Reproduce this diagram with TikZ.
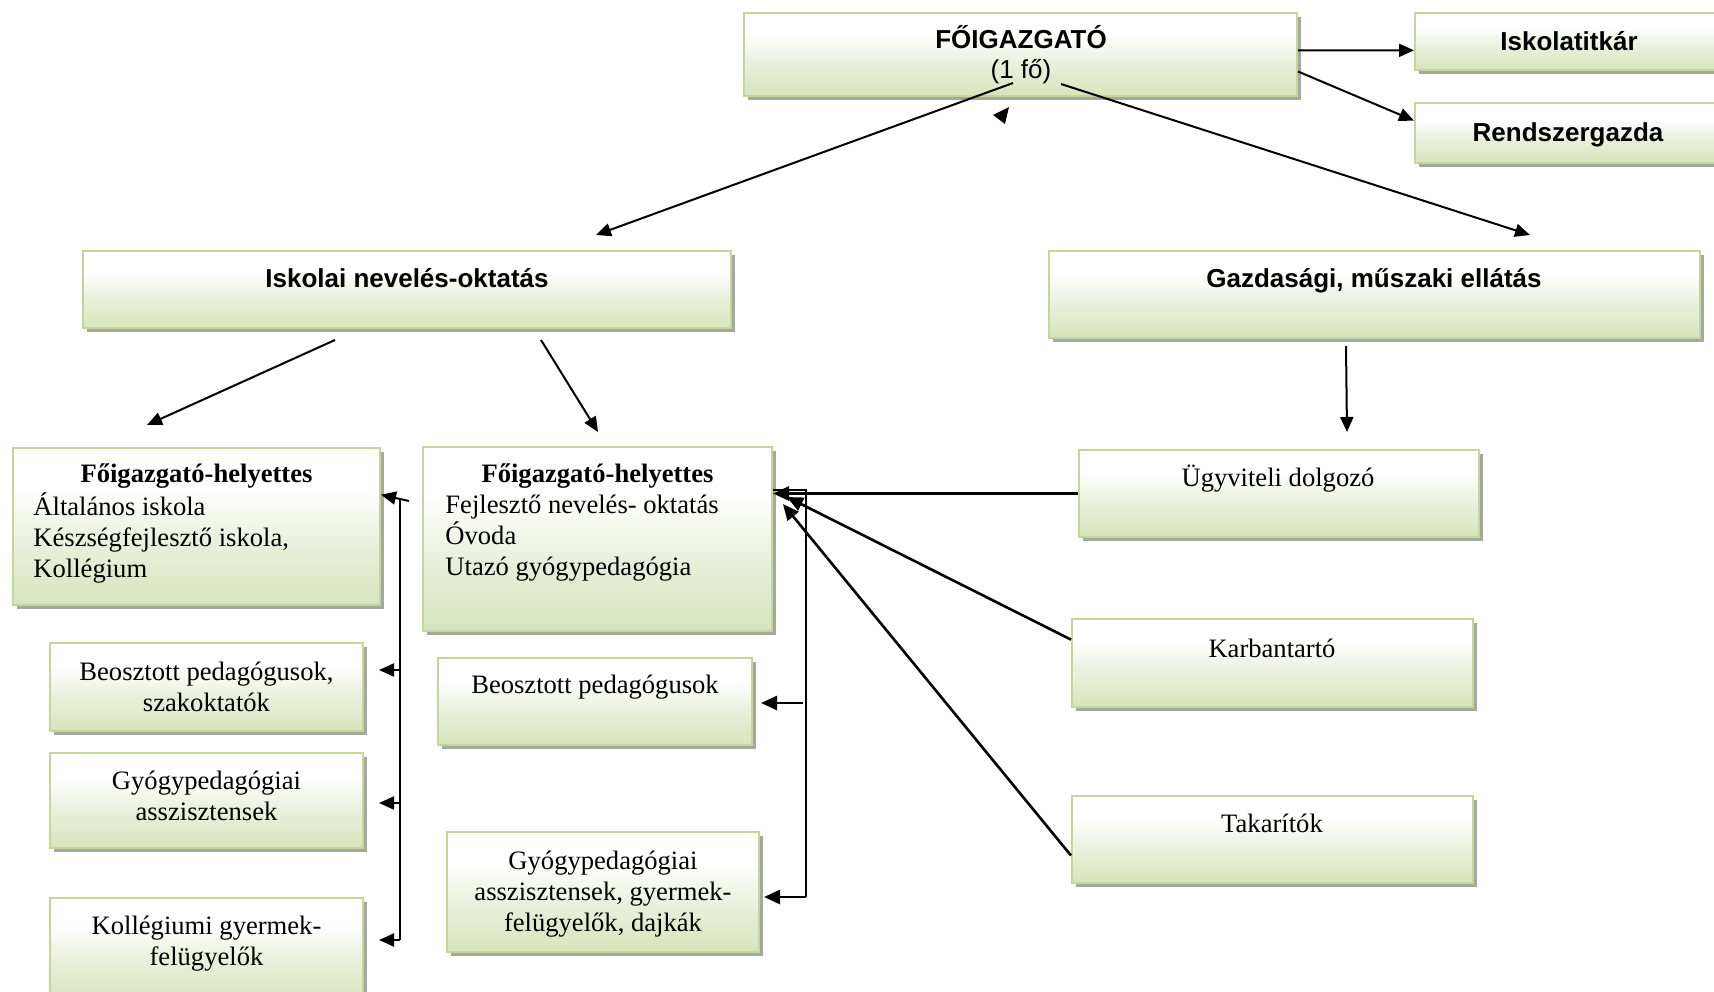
\documentclass[tikz,border=0pt]{standalone}
\usepackage{fontspec}
\setmainfont{Liberation Serif}
\newfontfamily\arialfont{Liberation Sans}
\usetikzlibrary{arrows.meta,shadows,calc,fit}
\definecolor{boxbot}{HTML}{D7E4BD}
\definecolor{boxmid}{HTML}{EAF0DC}
\definecolor{boxline}{HTML}{C3D69B}
\definecolor{shadowc}{HTML}{A4A99C}
\pgfdeclareverticalshading{boxshade}{100bp}{color(0bp)=(boxbot); color(25bp)=(boxbot); color(45bp)=(boxmid); color(62bp)=(white); color(100bp)=(white)}
\lineskiplimit=-20pt
\tikzset{
  box/.style={draw=boxline, line width=1pt, shade, shading=boxshade, inner sep=0pt,
    drop shadow={shadow xshift=1.8pt, shadow yshift=-2.2pt, fill=shadowc, opacity=1}},
  txt/.style={inner sep=0pt},
  ser/.style={font=\fontsize{13.3}{15.5}\selectfont},
  serb/.style={font=\fontsize{13.3}{15.5}\selectfont\bfseries},
  sansb/.style={font=\arialfont\fontsize{13}{15}\selectfont\bfseries},
  sansr/.style={font=\arialfont\fontsize{13}{15}\selectfont},
  conn/.style={draw, line width=1pt},
  arr/.style={draw, line width=1pt, -{Triangle[length=7.5pt,width=6.5pt]}},
  arrk/.style={draw, line width=1.3pt, -{Triangle[length=8pt,width=7pt]}}
}
\begin{document}
\begin{tikzpicture}[x=0.5pt,y=-0.5pt]
\useasboundingbox (0,0) rectangle (1714,991);
\fill[white] (0,0) rectangle (1714,991);
\clip (0,0) rectangle (1714,991);

% boxes
\node[box, fit={(744,13) (1297,96)}] (FOI) {};
\node[box, fit={(1415,13) (1727,70)}] (ISK) {};
\node[box, fit={(1415,103) (1727,163)}] (RSG) {};
\node[box, fit={(83,251) (731,328)}] (ISO) {};
\node[box, fit={(1049,251) (1700,338)}] (GAZ) {};
\node[box, fit={(13,448) (380,605)}] (FH1) {};
\node[box, fit={(423,447) (772,631)}] (FH2) {};
\node[box, fit={(1079,450) (1479,537)}] (UGY) {};
\node[box, fit={(1072,619) (1473,707)}] (KAR) {};
\node[box, fit={(1072,796) (1473,883)}] (TAK) {};
\node[box, fit={(50,643) (363,731)}] (B1) {};
\node[box, fit={(50,753) (363,848)}] (G1) {};
\node[box, fit={(50,898) (363,1000)}] (K1) {};
\node[box, fit={(438,658) (752,745)}] (B2) {};
\node[box, fit={(447,832) (759,952)}] (G2) {};

% texts
\node[txt, sansb] (FOIt) at (1021,37) {FŐIGAZGATÓ};
\node[txt, sansr] (FOIs) at (1021,72) {(1 fő)};
\node[txt, sansb] (ISKt) at (1569,41) {Iskolatitkár};
\node[txt, sansb] (RSGt) at (1568,135) {Rendszergazda};
\node[txt, sansb] (ISOt) at (407,278) {Iskolai nevelés-oktatás};
\node[txt, sansb] (GAZt) at (1374,281) {Gazdasági, műszaki ellátás};
\node[txt, serb] (FH1t) at (196.5,476) {Főigazgató-helyettes};
\node[txt, ser, anchor=west, align=left] (FH1l) at (33,538) {Általános iskola\\Készségfejlesztő iskola,\\Kollégium};
\node[txt, serb] (FH2t) at (597.5,476) {Főigazgató-helyettes};
\node[txt, ser, anchor=west, align=left] (FH2l) at (445,538) {Fejlesztő nevelés- oktatás\\Óvoda\\Utazó gyógypedagógia};
\node[txt, ser] (UGYt) at (1278,479) {Ügyviteli dolgozó};
\node[txt, ser] (KARt) at (1272,648) {Karbantartó};
\node[txt, ser] (TAKt) at (1272,823) {Takarítók};
\node[txt, ser, align=center] (B1t) at (206.5,687) {Beosztott pedagógusok,\\szakoktatók};
\node[txt, ser, align=center] (G1t) at (206.5,796) {Gyógypedagógiai\\asszisztensek};
\node[txt, ser, align=center] (K1t) at (206.5,944) {Kollégiumi gyermek-\\felügyelők};
\node[txt, ser] (B2t) at (595,687) {Beosztott pedagógusok};
\node[txt, ser, align=center] (G2t) at (603,894) {Gyógypedagógiai\\asszisztensek, gyermek-\\felügyelők, dajkák};

% free connector ends
\coordinate (foiL) at (1013,83);
\coordinate (isoIn) at (596,235);
\coordinate (foiR) at (1061,84);
\coordinate (gazIn) at (1530,235);
\coordinate (isoL) at (335,340);
\coordinate (fh1Top) at (147,425);
\coordinate (isoR) at (541,340);
\coordinate (fh2Top) at (598,432);
\coordinate (gazB) at (1346,346);
\coordinate (ugyTop) at (1347,432);
\coordinate (lbT) at (409,501);
\coordinate (lbV) at (400,499);
\coordinate (lb1) at (400,670);
\coordinate (lb2) at (400,803);
\coordinate (lbB) at (400,940);
\coordinate (rbT) at (806,490);
\coordinate (rb1) at (803,703);
\coordinate (rbB) at (806,897);
\coordinate (fh2k) at (787,497);
\coordinate (fh2t) at (783,504);

% connectors top
\draw[arr] ($(FOI.north east)!0.45!(FOI.south east)$) -- ($(ISK.north west)!0.65!(ISK.south west)$);
\draw[arr] ($(FOI.north east)!0.7!(FOI.south east)$) -- ($(RSG.north west)!0.3!(RSG.south west)$);
\draw[arr] (foiL) -- (isoIn);
\draw[arr] (foiR) -- (gazIn);
\fill (1009,107) -- (993,115) -- (1005,124) -- cycle;
\draw[arr] (isoL) -- (fh1Top);
\draw[arr] (isoR) -- (fh2Top);
\draw[arr] (gazB) -- (ugyTop);

% left bus
\draw[arr] (lbT) -- ($(FH1.north east)!0.3!(FH1.south east)$);
\draw[conn] (lbV) -- (lbB);
\draw[arr, shorten >=7.5pt] (lb1) -- (lb1 -| B1.east);
\draw[arr, shorten >=7.5pt] (lb2) -- (lb2 -| G1.east);
\draw[arr, shorten >=7.5pt] (lbB) -- (lbB -| K1.east);

% right bus
\draw[arrk] (UGY.west) -- (UGY.west -| FH2.east);
\draw[conn] (rbT -| FH2.east) -- (rbT) -- (rbB);
\draw[arrk, shorten >=2pt] (rbB) -- (rbB -| G2.east);
\draw[arrk, shorten >=4pt] (rb1) -- (rb1 -| B2.east);
\draw[arrk] ($(KAR.north west)!0.24!(KAR.south west)$) -- (fh2k);
\draw[arrk] ($(TAK.north west)!0.68!(TAK.south west)$) -- (fh2t);
\end{tikzpicture}
\end{document}
